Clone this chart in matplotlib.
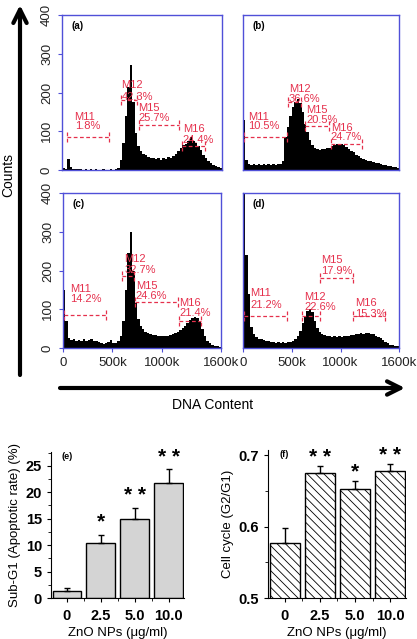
import numpy as np
import matplotlib.pyplot as plt
from matplotlib.ticker import MultipleLocator

plt.rcParams['font.family'] = ['Liberation Sans', 'DejaVu Sans']

# DNA content histograms: counts per 25k bin, 0 .. 1600k
hist_a = [4, 3, 28, 8, 3, 2, 2, 2, 1, 2, 1, 2, 1, 2, 1, 1,
          2, 1, 1, 2, 1, 2, 5, 25, 70, 140, 215, 270, 175, 95, 62, 48,
          42, 38, 34, 30, 32, 28, 30, 27, 31, 29, 33, 30, 36, 42, 50, 58,
          64, 68, 75, 85, 76, 70, 62, 52, 40, 32, 22, 18, 14, 10, 8, 6]
hist_b = [130, 25, 15, 14, 16, 13, 15, 14, 16, 13, 15, 14, 15, 13, 16, 15,
          22, 85, 112, 140, 162, 175, 182, 174, 150, 120, 98, 78, 64, 58, 54, 52,
          53, 55, 56, 58, 62, 64, 66, 68, 67, 64, 60, 55, 50, 46, 40, 35,
          31, 28, 26, 24, 22, 21, 19, 17, 16, 14, 13, 11, 10, 9, 7, 5]
hist_c = [150, 70, 25, 20, 22, 18, 21, 19, 22, 18, 20, 24, 19, 17, 15, 12,
          10, 12, 15, 20, 14, 12, 18, 30, 70, 150, 245, 300, 200, 115, 75, 58,
          48, 42, 38, 36, 34, 33, 31, 30, 30, 31, 32, 33, 35, 38, 42, 46,
          52, 58, 65, 72, 77, 80, 78, 68, 48, 30, 18, 12, 8, 5, 4, 3]
hist_d = [420, 240, 140, 55, 35, 28, 24, 22, 20, 18, 17, 16, 15, 14, 15, 14,
          15, 14, 16, 15, 18, 22, 30, 45, 65, 82, 95, 100, 92, 70, 52, 42,
          36, 33, 31, 30, 29, 30, 28, 30, 29, 31, 30, 32, 33, 34, 35, 36,
          38, 37, 39, 38, 36, 35, 32, 29, 25, 21, 16, 12, 9, 7, 5, 4]
bin_w = 25

# gates (marker ranges in k) and percentages
gate_names = ['M11', 'M12', 'M15', 'M16']
gates_a = [(51, 466), (585, 748), (765, 1173), (1197, 1429)]
gates_b = [(10, 449), (459, 595), (639, 884), (901, 1218)]
gates_c = [(7, 439), (602, 721), (731, 1163), (1170, 1401)]
gates_d = [(14, 456), (609, 789), (789, 1129), (1129, 1459)]
pct_a = ['1.8%', '42.3%', '25.7%', '24.4%']
pct_b = ['10.5%', '36.6%', '20.5%', '24.7%']
pct_c = ['14.2%', '32.7%', '24.6%', '21.4%']
pct_d = ['21.2%', '22.6%', '17.9%', '15.3%']

# bar charts
doses = ['0', '2.5', '5.0', '10.0']
subg1 = [1.3, 10.4, 14.9, 21.7]
subg1_err = [0.5, 1.6, 2.1, 2.6]
g2g1 = [0.577, 0.675, 0.653, 0.677]
g2g1_err = [0.021, 0.010, 0.011, 0.010]
stars_e = ['', '*', '**', '**']
stars_f = ['', '**', '*', '**']

# layout of marker annotations: line level, text x, pct y, name y
lay_a = [(84, 126, 113, 137), (180, 595, 189, 219), (116, 765, 133, 159), (63, 1207, 77, 105)]
lay_b = [(84, 51, 113, 137), (176, 469, 182, 208), (113, 646, 130, 155), (67, 901, 84, 109)]
lay_c = [(86, 75, 126, 152), (187, 619, 202, 230), (118, 738, 133, 159), (69, 1180, 90, 116)]
lay_d = [(83, 75, 112, 142), (83, 629, 106, 132), (181, 806, 200, 226), (83, 1146, 89, 116)]

W, H = 417, 639
fig = plt.figure(figsize=(W / 100, H / 100), dpi=100)

blue = '#5050d8'
red = '#e5304c'


def px(x0, y0, x1, y1):
    return [x0 / W, 1 - y1 / H, (x1 - x0) / W, (y1 - y0) / H]


def hist_panel(rect, counts, gates, pcts, lay, tag, ylab, xlab):
    ax = fig.add_axes(rect)
    edges = np.arange(0, bin_w * (len(counts) + 1), bin_w)
    ax.stairs(counts, edges, fill=True, color='black')
    ax.set_xlim(0, 1600)
    ax.set_ylim(0, 400)
    for s in ax.spines.values():
        s.set_color(blue)
        s.set_linewidth(1.0)
    ax.tick_params(colors=blue, labelcolor='#222222', labelsize=9.5, length=3, width=0.8)
    ax.set_yticks([0, 100, 200, 300, 400])
    ax.set_xticks([0, 500, 1000, 1600])
    if ylab:
        ax.set_yticklabels(['0', '100', '200', '300', '400'], rotation=90, va='center')
    else:
        ax.tick_params(axis='y', left=False, labelleft=False)
    if xlab:
        ax.set_xticklabels(['0', '500k', '1000k', '1600k'])
    else:
        ax.tick_params(axis='x', bottom=False, labelbottom=False)
    for name, (g0, g1), p, (lv, tx, py, ny) in zip(gate_names, gates, pcts, lay):
        ax.plot([g0, g1], [lv, lv], color=red, lw=0.9, ls=(0, (3, 2)))
        for g in (g0, g1):
            ax.plot([g, g], [lv - 13, lv + 13], color=red, lw=0.9, ls=(0, (3, 2)))
        ax.text(tx, ny, name, color=red, fontsize=8, ha='left', va='center')
        ax.text(tx, py, p, color=red, fontsize=8, ha='left', va='center')
    ax.text(0.06, 0.93, tag, transform=ax.transAxes, fontsize=7, fontweight='bold', va='center')
    return ax


hist_panel(px(62, 15, 222, 170), hist_a, gates_a, pct_a, lay_a, '(a)', True, False)
hist_panel(px(243, 15, 399, 170), hist_b, gates_b, pct_b, lay_b, '(b)', False, False)
hist_panel(px(63, 193, 221, 348), hist_c, gates_c, pct_c, lay_c, '(c)', True, True)
hist_panel(px(243, 193, 399, 348), hist_d, gates_d, pct_d, lay_d, '(d)', False, True)

# big axis arrows
plt.annotate('', xy=(20, H - 5), xytext=(20, H - 375), xycoords='figure pixels',
             arrowprops=dict(arrowstyle='->', lw=3, color='black', mutation_scale=24,
                             shrinkA=0, shrinkB=0))
plt.annotate('', xy=(405, H - 388), xytext=(60, H - 388), xycoords='figure pixels',
             arrowprops=dict(arrowstyle='->', lw=3, color='black', mutation_scale=24,
                             shrinkA=0, shrinkB=0))
fig.text(8 / W, 1 - 175 / H, 'Counts', rotation=90, fontsize=10, ha='center', va='center')
fig.text(213 / W, 1 - 405 / H, 'DNA Content', fontsize=10, ha='center', va='center')


def bar_panel(rect, vals, errs, stars, ylim, yticks, minor, ylabel, tag, hatch, fc, star_off):
    ax = fig.add_axes(rect)
    x = np.arange(len(vals))
    ax.bar(x, vals, width=0.85, color=fc, edgecolor='black', linewidth=1.0, hatch=hatch)
    ax.errorbar(x, vals, yerr=[np.zeros(len(vals)), errs], fmt='none', ecolor='black',
                elinewidth=1.0, capsize=2.5, capthick=1.0)
    for xi, v, e, s in zip(x, vals, errs, stars):
        if s:
            ax.text(xi, v + e + star_off, ' '.join(s), ha='center', va='center', fontsize=15,
                    fontweight='bold')
    ax.set_xlim(-0.47, 3.45)
    ax.set_ylim(*ylim)
    ax.spines['top'].set_visible(False)
    ax.spines['right'].set_visible(False)
    ax.set_yticks(yticks)
    ax.yaxis.set_minor_locator(MultipleLocator(minor))
    ax.set_xticks(x)
    ax.set_xticklabels(doses)
    ax.set_xticks([0.5, 1.5, 2.5], minor=True)
    ax.tick_params(axis='x', which='major', length=0, pad=5)
    ax.tick_params(which='minor', length=2)
    ax.tick_params(labelsize=10.5, length=3)
    for lab in ax.get_xticklabels() + ax.get_yticklabels():
        lab.set_fontweight('bold')
    ax.set_ylabel(ylabel, fontsize=9.5, labelpad=3)
    ax.set_xlabel('ZnO NPs (\u03bcg/ml)', fontsize=9.5, labelpad=3)
    ax.text(0.08, 0.97, tag, transform=ax.transAxes, fontsize=6.5, fontweight='bold', va='center')
    return ax


plt.rcParams['hatch.linewidth'] = 0.6
axe = bar_panel(px(51, 452, 184, 598), subg1, subg1_err, stars_e, (0, 27.6),
                [0, 5, 10, 15, 20, 25], 2.5,
                'Sub-G1 (Apoptotic rate) (%)', '(e)', None, '#d4d4d4', 2.3)
axf = bar_panel(px(268, 450, 406, 598), g2g1, g2g1_err, stars_f, (0.5, 0.707),
                [0.5, 0.6, 0.7], 0.05,
                'Cell cycle (G2/G1)', '(f)', '\\\\\\\\', 'white', 0.012)
axf.set_yticklabels(['0.5', '0.6', '0.7'], fontweight='bold')

fig.savefig('out.png', dpi=100)
